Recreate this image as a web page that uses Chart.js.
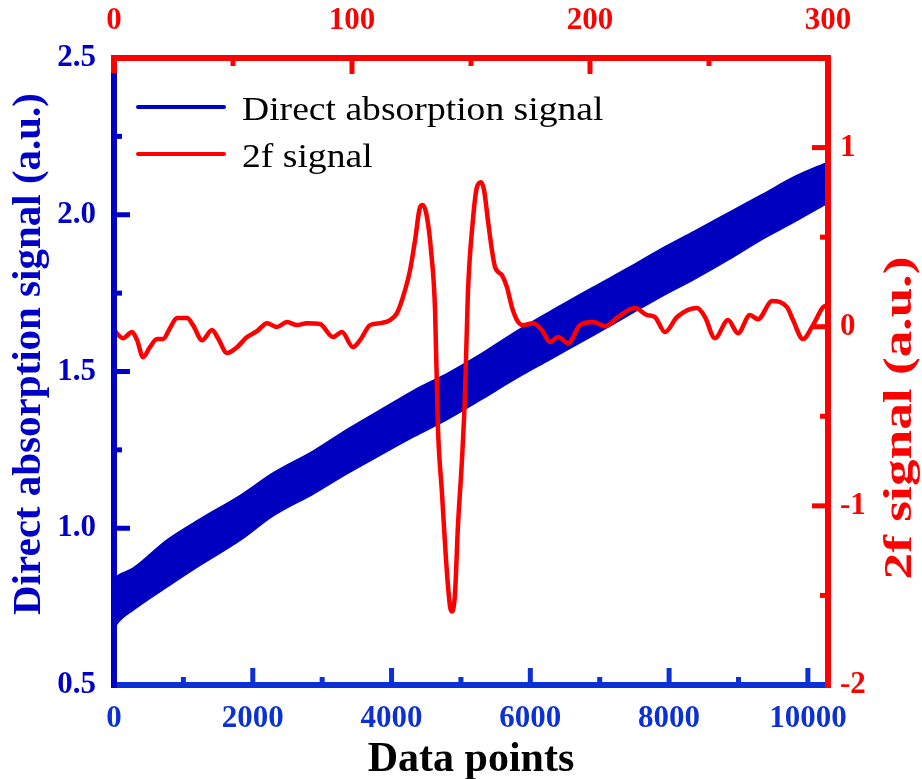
<!DOCTYPE html>
<html>
<head>
<meta charset="utf-8">
<script src="https://cdn.jsdelivr.net/npm/chart.js@4.4.0/dist/chart.umd.min.js"></script>
<style>
  html, body { margin: 0; padding: 0; background: #ffffff; }
</style>
</head>
<body>
<canvas id="chart" width="922" height="779"></canvas>
<script>
// --- Direct absorption band (bottom / left axes), edges ---
const bandX     = [0, 60, 275, 766, 1243, 1821, 2298, 2876, 3367, 3844, 4321, 4812, 5289, 5766, 6257, 6922, 7413, 7890, 8367, 8858, 9335, 9812, 10290];
const bandUpper = [0.84, 0.85, 0.873, 0.963, 1.030, 1.105, 1.177, 1.247, 1.316, 1.378, 1.440, 1.495, 1.556, 1.624, 1.688, 1.771, 1.831, 1.892, 1.948, 2.007, 2.064, 2.122, 2.168];
const bandLower = [0.68, 0.70, 0.739, 0.813, 0.882, 0.962, 1.040, 1.110, 1.175, 1.234, 1.292, 1.348, 1.410, 1.474, 1.535, 1.617, 1.679, 1.739, 1.795, 1.857, 1.921, 1.978, 2.038];

// --- 2f signal (top / right axes) ---
const f2X = [0, 3.8, 7.6, 9.7, 12.2, 15.1, 18.1, 20.6, 23.5, 26.5, 30.7, 33.2, 37.0, 41.2, 43.7, 47.5, 51.7, 55.9, 60.1, 64.3, 68.5, 72.7, 76.9, 81.1, 86.6, 92.0, 95.8, 100.4, 103.4,
             107.6, 111.8, 116.0, 118.9, 121.4, 124.4, 126.5, 128.6, 129.8, 131.5, 133.2, 134.9, 136.1, 137.8, 139.5, 141.2, 142.0, 143.3, 144.5, 146.2, 147.5, 148.7,
             150.8, 152.5, 154.2, 155.5, 157.1, 158.8, 160.1, 163.0, 165.1, 167.2, 169.3, 171.8, 176.1, 179.8, 183.2, 186.6, 190.8, 195.8, 201.3, 206.3, 211.8,
             218.9, 224.0, 227.3, 231.5, 236.6, 245.0, 248.3, 252.5, 258.0, 262.2, 267.2, 270.6, 276.5, 282.8, 285.3, 289.5, 293.7, 297.9, 300];
const f2Y = [-0.02, -0.064, -0.03, -0.075, -0.17, -0.114, -0.069, -0.069, -0.008, 0.048, 0.048, 0.009, -0.075, -0.019, -0.064, -0.147, -0.114, -0.058, -0.025, 0.02, -0.002, 0.026, 0.009, 0.02, 0.015, -0.058, -0.03, -0.114, -0.075,
             0.009, 0.02, 0.037, 0.076, 0.165, 0.316, 0.483, 0.667, 0.679, 0.612, 0.427, 0.093, -0.56, -0.928, -1.30, -1.563, -1.59, -1.485, -1.117, -0.744, -0.37, 0.188,
             0.595, 0.779, 0.807, 0.762, 0.595, 0.427, 0.333, 0.288, 0.221, 0.109, 0.037, 0.009, 0.02, -0.019, -0.086, -0.058, -0.092, 0.009, 0.026, 0.003, 0.054,
             0.104, 0.065, 0.054, -0.03, 0.054, 0.104, 0.054, -0.064, 0.037, -0.036, 0.065, 0.042, 0.143, 0.109, 0.037, -0.069, 0.009, 0.109, 0.12];

// --- ticks ---
const bottomTicks = [0, 2000, 4000, 6000, 8000, 10000];
const bottomMinor = [1000, 3000, 5000, 7000, 9000];
const topTicks    = [0, 100, 200, 300];
const topMinor    = [50, 150, 250];
const leftTicks   = [0.5, 1.0, 1.5, 2.0, 2.5];
const leftMinor   = [0.75, 1.25, 1.75, 2.25];
const rightTicks  = [-2, -1, 0, 1];
const rightMinor  = [-1.5, -0.5, 0.5];

const BLUE = '#0000c8';
const BLUE_B = '#0a30d6';
const BAND = '#0000c0';
const RED = '#ff0000';
const SERIF = "'Liberation Serif', 'Times New Roman', serif";

function pts(xs, ys) { return xs.map((x, i) => ({ x: x, y: ys[i] })); }
function fixTicks(list) { return s => { s.ticks = list.map(v => ({ value: v })); }; }

const frame = {
    id: 'frame',
    afterDatasetsDraw(chart) {
        const { ctx, chartArea: a, scales } = chart;
        ctx.save();
        ctx.lineCap = 'butt';

        // axis lines
        ctx.lineWidth = 6;
        ctx.strokeStyle = BLUE_B;
        ctx.beginPath(); ctx.moveTo(a.left, a.bottom); ctx.lineTo(a.right, a.bottom); ctx.stroke();
        ctx.strokeStyle = RED;
        ctx.beginPath(); ctx.moveTo(a.left - 3, a.top); ctx.lineTo(a.right + 3, a.top); ctx.stroke();
        ctx.beginPath(); ctx.moveTo(a.right, a.top - 3); ctx.lineTo(a.right, a.bottom + 3); ctx.stroke();
        ctx.beginPath(); ctx.moveTo(a.left, a.top - 3); ctx.lineTo(a.left, a.top + 15); ctx.stroke();
        ctx.strokeStyle = BLUE;
        ctx.beginPath(); ctx.moveTo(a.left, a.top + 15); ctx.lineTo(a.left, a.bottom + 3); ctx.stroke();

        // inward ticks
        ctx.lineWidth = 5;
        const vt = (scale, vals, x, len, col) => {
            ctx.strokeStyle = col;
            vals.forEach(v => {
                const y = scale.getPixelForValue(v);
                ctx.beginPath(); ctx.moveTo(x, y); ctx.lineTo(x + len, y); ctx.stroke();
            });
        };
        const ht = (scale, vals, y, len, col) => {
            ctx.strokeStyle = col;
            vals.forEach(v => {
                const x = scale.getPixelForValue(v);
                ctx.beginPath(); ctx.moveTo(x, y); ctx.lineTo(x, y + len); ctx.stroke();
            });
        };
        vt(scales.y, leftTicks.slice(1, -1), a.left, 16, BLUE);
        vt(scales.y, leftMinor, a.left, 8, BLUE);
        vt(scales.y2, rightTicks.slice(1), a.right, -16, RED);
        vt(scales.y2, rightMinor, a.right, -8, RED);
        ht(scales.x, bottomTicks.slice(1), a.bottom, -17, BLUE_B);
        ht(scales.x, bottomMinor, a.bottom, -8, BLUE_B);
        ht(scales.x2, topTicks.slice(1, -1), a.top, 16, RED);
        ht(scales.x2, topMinor, a.top, 8, RED);
        ctx.restore();
    },
    afterDraw(chart) {
        const ctx = chart.ctx;
        ctx.save();
        // legend
        ctx.lineCap = 'round';
        ctx.lineWidth = 4;
        ctx.strokeStyle = '#0000cc';
        ctx.beginPath(); ctx.moveTo(138, 107); ctx.lineTo(224, 107); ctx.stroke();
        ctx.strokeStyle = RED;
        ctx.beginPath(); ctx.moveTo(138, 154); ctx.lineTo(224, 154); ctx.stroke();
        ctx.fillStyle = '#000';
        ctx.font = '33px ' + SERIF;
        ctx.textBaseline = 'alphabetic';
        ctx.save();
        ctx.translate(242, 0);
        ctx.scale(1.14, 1);
        ctx.fillText('Direct absorption signal', 0, 120);
        ctx.fillText('2f signal', 0, 167);
        ctx.restore();

        // axis titles drawn by hand, both read bottom to top
        ctx.font = 'bold 41px ' + SERIF;
        ctx.textAlign = 'center';
        ctx.textBaseline = 'middle';

        ctx.save();
        ctx.translate(29, 354);
        ctx.rotate(-Math.PI / 2);
        ctx.fillStyle = BLUE;
        ctx.fillText('Direct absorption signal (a.u.)', 0, 0);
        ctx.restore();

        ctx.save();
        ctx.translate(900, 418);
        ctx.rotate(-Math.PI / 2);
        ctx.scale(1.3, 1);
        ctx.fillStyle = RED;
        ctx.fillText('2f signal (a.u.)', 0, 0);
        ctx.restore();

        ctx.restore();
    }
};

const tickFont = { family: SERIF, size: 31, weight: 'bold' };

new Chart(document.getElementById('chart'), {
    type: 'line',
    data: {
        datasets: [
            {
                label: '2f signal',
                data: pts(f2X, f2Y),
                xAxisID: 'x2', yAxisID: 'y2',
                borderColor: RED, borderWidth: 4.5,
                pointRadius: 0, fill: false,
                cubicInterpolationMode: 'monotone',
                order: 0
            },
            {
                label: 'Direct absorption signal',
                data: pts(bandX, bandUpper),
                xAxisID: 'x', yAxisID: 'y',
                borderColor: BAND, borderWidth: 1.5,
                backgroundColor: BAND,
                pointRadius: 0, fill: '+1',
                cubicInterpolationMode: 'monotone',
                order: 1
            },
            {
                label: 'band lower',
                data: pts(bandX, bandLower),
                xAxisID: 'x', yAxisID: 'y',
                borderColor: BAND, borderWidth: 1.5,
                pointRadius: 0, fill: false,
                cubicInterpolationMode: 'monotone',
                order: 2
            }
        ]
    },
    options: {
        responsive: false,
        animation: false,
        devicePixelRatio: 1,
        layout: { padding: 0 },
        plugins: { legend: { display: false }, tooltip: { enabled: false } },
        scales: {
            x: {
                type: 'linear', position: 'bottom', min: 0, max: 10290,
                afterBuildTicks: fixTicks(bottomTicks),
                afterFit: s => { s.height = 94; },
                grid: { display: false, drawTicks: false }, border: { display: false },
                ticks: { color: BLUE_B, font: tickFont, padding: 15, maxRotation: 0, callback: v => String(v) },
                title: { display: true, text: 'Data points', color: '#000', font: { family: SERIF, size: 42, weight: 'bold' }, padding: { top: 0, bottom: -6 } }
            },
            x2: {
                type: 'linear', position: 'top', min: 0, max: 300,
                afterBuildTicks: fixTicks(topTicks),
                afterFit: s => { s.height = 58; },
                grid: { display: false, drawTicks: false }, border: { display: false },
                ticks: { color: RED, font: tickFont, padding: 18, maxRotation: 0, callback: v => String(v) }
            },
            y: {
                type: 'linear', position: 'left', min: 0.5, max: 2.5,
                afterBuildTicks: fixTicks(leftTicks),
                afterFit: s => { s.width = 114; },
                grid: { display: false, drawTicks: false }, border: { display: false },
                ticks: { color: BLUE, font: tickFont, padding: 18, callback: v => v.toFixed(1) }
            },
            y2: {
                type: 'linear', position: 'right', min: -2, max: 1.5,
                afterBuildTicks: fixTicks(rightTicks),
                afterFit: s => { s.width = 94; },
                grid: { display: false, drawTicks: false }, border: { display: false },
                ticks: { color: RED, font: tickFont, padding: 12, callback: v => String(v) }
            }
        }
    },
    plugins: [frame]
});
</script>
</body>
</html>
